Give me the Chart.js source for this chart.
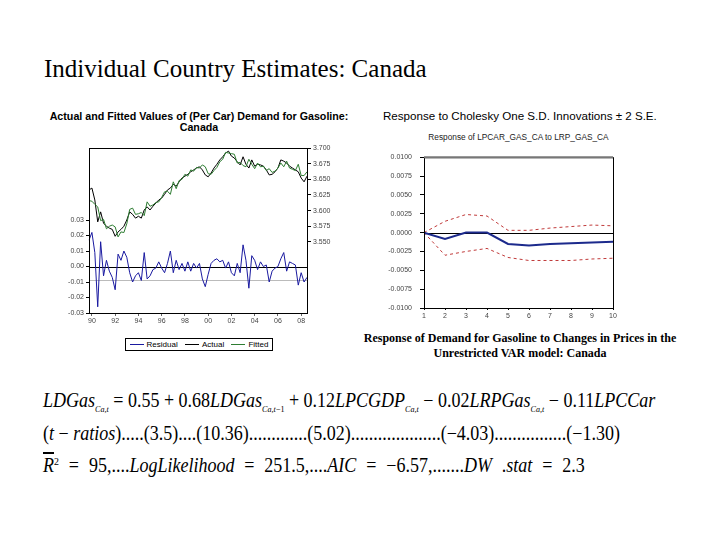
<!DOCTYPE html>
<html>
<head>
<meta charset="utf-8">
<script src="https://cdn.jsdelivr.net/npm/chart.js@4"></script>
<style>
body{margin:0;width:720px;height:540px;background:#fff;position:relative;overflow:hidden;font-family:"Liberation Sans",Arial,sans-serif;color:#000;}
.t{position:absolute;white-space:nowrap;}
canvas{position:absolute;}
#slideTitle{left:44px;top:55px;font:25px/28px "Liberation Serif","Times New Roman",serif;}
#leftTitle{left:40px;top:111px;width:318px;text-align:center;font-weight:bold;font-size:10.7px;line-height:11px;}
#rightTitle{left:383px;top:109px;font-size:11.6px;line-height:14px;}
#rightSub{left:424px;top:133px;width:189px;text-align:center;font-size:8.3px;line-height:9px;color:#222;}
#legend{position:absolute;left:125px;top:338px;width:146px;height:11px;border:1px solid #000;display:flex;align-items:center;justify-content:space-around;font-size:8px;}
#legend span.k{display:inline-block;width:14px;height:0;border-top:1px solid;vertical-align:middle;margin-right:3px;}
#caption{left:360px;top:331px;width:320px;text-align:center;font:bold 12px/15px "Liberation Serif","Times New Roman",serif;}
.eq{position:absolute;left:43px;white-space:nowrap;font:20px/22px "Liberation Serif","Times New Roman",serif;transform:scaleX(0.9);transform-origin:0 0;}
.eq sub{font-size:9px;vertical-align:-5px;}
.eq sup{font-size:11px;vertical-align:7px;}
</style>
</head>
<body>
<div class="t" id="slideTitle">Individual Country Estimates: Canada</div>
<div class="t" id="leftTitle">Actual and Fitted Values of (Per Car) Demand for Gasoline:<br>Canada</div>
<div class="t" id="rightTitle">Response to Cholesky One S.D. Innovations ± 2 S.E.</div>
<div class="t" id="rightSub">Response of LPCAR_GAS_CA to LRP_GAS_CA</div>

<canvas id="fitChart" width="310" height="190" style="left:40px;top:140px"></canvas>
<canvas id="irfChart" width="262" height="180" style="left:370px;top:145px"></canvas>

<div id="legend">
  <div><span class="k" style="border-color:#1a1aa0"></span>Residual</div>
  <div><span class="k" style="border-color:#000"></span>Actual</div>
  <div><span class="k" style="border-color:#2e7d32"></span>Fitted</div>
</div>
<div class="t" id="caption">Response of Demand for Gasoline to Changes in Prices in the<br>Unrestricted VAR model: Canada</div>

<div class="eq" style="top:389px"><i>LDGas</i><sub><i>Ca,t</i></sub> = 0.55 + 0.68<i>LDGas</i><sub><i>Ca,t</i>−1</sub> + 0.12<i>LPCGDP</i><sub><i>Ca,t</i></sub> − 0.02<i>LRPGas</i><sub><i>Ca,t</i></sub> − 0.11<i>LPCCar</i></div>
<div class="eq" style="top:422px">(<i>t</i> − <i>ratios</i>).....(3.5)....(10.36).............(5.02)....................(−4.03)................(−1.30)</div>
<div class="eq" style="top:450px;word-spacing:6px"><i style="text-decoration:overline">R</i><sup>2</sup> = 95,....<i>LogLikelihood</i> = 251.5,....<i>AIC</i> = −6.57,.......<i>DW</i> .<i>stat</i> = 2.3</div>

<script>
// quarterly sample, 1989Q4 - 2008Q3
const startYear = 1989, startQ = 4, nObs = 76;

const actual = [3.633, 3.636, 3.617, 3.582, 3.598, 3.580, 3.575, 3.572, 3.570, 3.559,
  3.566, 3.570, 3.575, 3.585, 3.598, 3.594, 3.588, 3.591, 3.588, 3.601,
  3.606, 3.601, 3.607, 3.612, 3.617, 3.620, 3.626, 3.633, 3.636, 3.642,
  3.639, 3.646, 3.652, 3.655, 3.658, 3.662, 3.665, 3.668, 3.670, 3.665,
  3.657, 3.654, 3.660, 3.668, 3.674, 3.681, 3.686, 3.692, 3.695, 3.687,
  3.684, 3.678, 3.673, 3.686, 3.674, 3.668, 3.681, 3.671, 3.674, 3.673,
  3.671, 3.665, 3.657, 3.658, 3.662, 3.668, 3.681, 3.679, 3.676, 3.671,
  3.668, 3.665, 3.662, 3.652, 3.646, 3.655];

const fitted = [3.616, 3.615, 3.610, 3.606, 3.584, 3.586, 3.571, 3.575, 3.577, 3.574,
  3.558, 3.566, 3.565, 3.579, 3.602, 3.604, 3.594, 3.595, 3.597, 3.592,
  3.614, 3.607, 3.609, 3.613, 3.614, 3.621, 3.630, 3.631, 3.626, 3.646,
  3.635, 3.648, 3.650, 3.658, 3.655, 3.665, 3.663, 3.669, 3.668, 3.673,
  3.670, 3.659, 3.658, 3.664, 3.669, 3.678, 3.682, 3.693, 3.692, 3.691,
  3.690, 3.676, 3.677, 3.672, 3.670, 3.682, 3.674, 3.667, 3.676, 3.670,
  3.671, 3.664, 3.667, 3.661, 3.663, 3.668, 3.676, 3.670, 3.679, 3.668,
  3.666, 3.664, 3.674, 3.656, 3.656, 3.662];

const residual = [0.017, 0.022, 0.009, -0.026, 0.016, -0.006, 0.004, -0.003, -0.007, -0.015,
  0.008, 0.004, 0.010, 0.006, -0.004, -0.010, -0.006, -0.004, -0.009, 0.009,
  -0.008, -0.006, -0.002, -0.001, 0.003, -0.001, -0.004, 0.002, 0.010, -0.004,
  0.004, -0.002, 0.002, -0.003, 0.003, -0.003, 0.002, -0.001, 0.002, -0.008,
  -0.013, -0.005, 0.002, 0.004, 0.005, 0.003, 0.004, -0.001, 0.003, -0.004,
  -0.006, 0.002, -0.004, 0.014, 0.004, -0.014, 0.007, 0.004, -0.002, 0.003,
  0.000, 0.001, -0.010, -0.003, -0.001, 0.000, 0.005, 0.009, -0.003, 0.003,
  0.002, 0.001, -0.012, -0.004, -0.010, -0.007];

const residTicks = [-0.03, -0.02, -0.01, 0.00, 0.01, 0.02, 0.03];
const levelTicks = [3.550, 3.575, 3.600, 3.625, 3.650, 3.675, 3.700];

// impulse response, periods 1..10
const periods = [1, 2, 3, 4, 5, 6, 7, 8, 9, 10];
const response = [0.0000, -0.00085, 0.0000, 0.0000, -0.0015, -0.0017, -0.0015, -0.0014, -0.0013, -0.0012];
const upperBand = [0.0000, 0.0015, 0.0024, 0.0022, 0.0003, 0.0003, 0.0006, 0.0008, 0.0010, 0.0009];
const lowerBand = [0.0000, -0.0030, -0.0025, -0.0021, -0.0033, -0.0037, -0.0037, -0.0037, -0.0035, -0.0034];

const quarterLabels = [];
for (let i = 0; i < nObs; i++) {
  const k = startQ - 1 + i;
  quarterLabels.push((startYear + Math.floor(k / 4)) + 'Q' + (k % 4 + 1));
}
function yearTick(lbl) {
  const y = +lbl.slice(0, 4), q = lbl.slice(5);
  if (q === '1' && y % 2 === 0) return String(y).slice(2);
  return '';
}

const tickFont = {family: 'Liberation Sans', size: 7};

// box round the plot + reference lines
const framePlugin = {
  id: 'frame',
  beforeDatasetsDraw(chart, args, opts) {
    const ctx = chart.ctx, a = chart.chartArea;
    (opts.lines || []).forEach(l => {
      const y = chart.scales[l.axis].getPixelForValue(l.value);
      ctx.save();
      ctx.strokeStyle = l.color;
      ctx.lineWidth = 1;
      ctx.beginPath();
      ctx.moveTo(a.left, Math.round(y) + 0.5);
      ctx.lineTo(a.right, Math.round(y) + 0.5);
      ctx.stroke();
      ctx.restore();
    });
  },
  afterDatasetsDraw(chart, args, opts) {
    const ctx = chart.ctx, a = chart.chartArea;
    ctx.save();
    ctx.strokeStyle = '#000';
    ctx.lineWidth = 1;
    ctx.strokeRect(a.left + 0.5, a.top + 0.5, a.right - a.left, a.bottom - a.top);
    if (opts.topColor) {
      ctx.strokeStyle = opts.topColor;
      ctx.lineWidth = 2;
      ctx.beginPath();
      ctx.moveTo(a.left, a.top);
      ctx.lineTo(a.right, a.top);
      ctx.stroke();
    }
    ctx.restore();
  }
};

new Chart(document.getElementById('fitChart'), {
  type: 'line',
  data: {
    labels: quarterLabels,
    datasets: [
      {label: 'Residual', data: residual, yAxisID: 'yL', borderColor: '#1a1aa0', borderWidth: 1, pointRadius: 0, tension: 0, order: 3},
      {label: 'Actual', data: actual, yAxisID: 'yR', borderColor: '#000', borderWidth: 1, pointRadius: 0, tension: 0, order: 2},
      {label: 'Fitted', data: fitted, yAxisID: 'yR', borderColor: '#2e7d32', borderWidth: 1, pointRadius: 0, tension: 0, order: 1}
    ]
  },
  options: {
    responsive: false,
    animation: false,
    layout: {padding: {top: 8}},
    plugins: {
      legend: {display: false},
      tooltip: {enabled: false},
      frame: {lines: [{axis: 'yL', value: -0.009, color: '#bbb'}, {axis: 'yL', value: 0, color: '#000'}]}
    },
    scales: {
      x: {
        offset: false,
        grid: {drawOnChartArea: false, tickLength: 3, color: '#000',
          tickColor: c => yearTick(quarterLabels[c.index] || '') ? '#666' : 'rgba(0,0,0,0)'},
        border: {display: false},
        ticks: {autoSkip: false, maxRotation: 0, padding: 1, font: tickFont, color: '#444',
          callback: (v, i) => yearTick(quarterLabels[i])},
        afterFit: s => { s.height = 17; }
      },
      yL: {
        position: 'left',
        min: -0.03, max: 0.0765,
        grid: {drawOnChartArea: false, tickLength: 3, color: '#000'},
        border: {display: false},
        afterBuildTicks: s => { s.ticks = residTicks.map(v => ({value: v})); },
        ticks: {font: tickFont, color: '#444', padding: 2, callback: v => v.toFixed(2)},
        afterFit: s => { s.width = 49; }
      },
      yR: {
        position: 'right',
        min: 3.4365, max: 3.700,
        grid: {drawOnChartArea: false, tickLength: 4, color: '#000'},
        border: {display: false},
        afterBuildTicks: s => { s.ticks = levelTicks.map(v => ({value: v})); },
        ticks: {font: tickFont, color: '#444', padding: 2, callback: v => v.toFixed(3)},
        afterFit: s => { s.width = 43; }
      }
    }
  },
  plugins: [framePlugin]
});

new Chart(document.getElementById('irfChart'), {
  type: 'line',
  data: {
    datasets: [
      {label: 'Response', data: periods.map((p, i) => ({x: p, y: response[i]})), borderColor: '#1c2a8c', borderWidth: 2, pointRadius: 0, tension: 0},
      {label: '+2 S.E.', data: periods.map((p, i) => ({x: p, y: upperBand[i]})), borderColor: '#c03a3a', borderWidth: 1, borderDash: [3, 3], pointRadius: 0, tension: 0},
      {label: '-2 S.E.', data: periods.map((p, i) => ({x: p, y: lowerBand[i]})), borderColor: '#c03a3a', borderWidth: 1, borderDash: [3, 3], pointRadius: 0, tension: 0}
    ]
  },
  options: {
    responsive: false,
    animation: false,
    layout: {padding: {top: 8, right: 19}},
    plugins: {
      legend: {display: false},
      tooltip: {enabled: false},
      frame: {lines: [{axis: 'y', value: 0, color: '#000'}], topColor: '#777'}
    },
    scales: {
      x: {
        type: 'linear', min: 1, max: 10,
        grid: {drawOnChartArea: false, tickLength: 2, color: '#000'},
        border: {display: false},
        ticks: {stepSize: 1, font: tickFont, color: '#444', padding: 2},
        afterFit: s => { s.height = 17; }
      },
      y: {
        min: -0.01, max: 0.01,
        grid: {drawOnChartArea: false, tickLength: 4, color: '#000'},
        border: {display: false},
        ticks: {stepSize: 0.0025, font: tickFont, color: '#444', padding: 8, callback: v => v.toFixed(4)},
        afterFit: s => { s.width = 54; }
      }
    }
  },
  plugins: [framePlugin]
});
</script>
</body>
</html>
